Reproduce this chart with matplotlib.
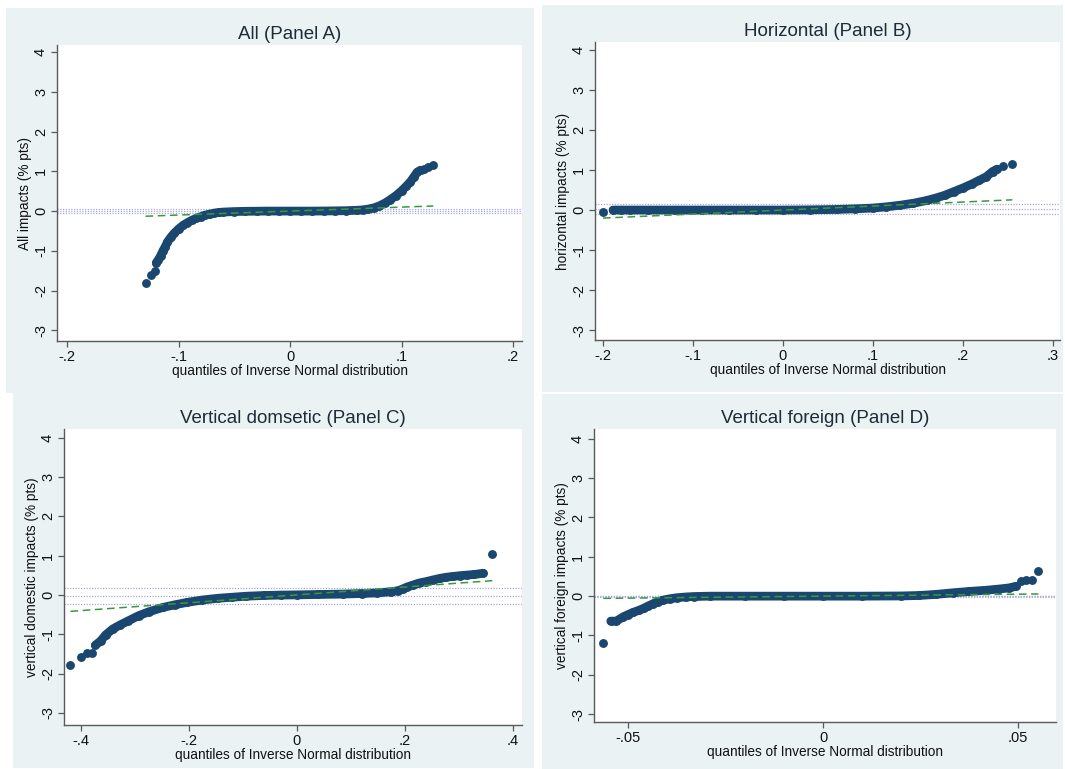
import matplotlib
matplotlib.use("Agg")
import matplotlib.pyplot as plt
from matplotlib.patches import Rectangle

plt.rcParams['font.family'] = ['Liberation Sans', 'DejaVu Sans']

W, H = 1065, 769

# ---- Panel A: all impacts -------------------------------------------------
qa_x = [-0.1296, -0.1250, -0.1215, -0.1200, -0.1180, -0.1160, -0.1140, -0.1120,
        -0.1100, -0.1070, -0.1040, -0.1000, -0.0960, -0.0920, -0.0880, -0.0840,
        -0.0800, -0.0760, -0.0720, -0.0680, -0.0640, -0.0600, -0.0500, -0.0400,
        -0.0300, -0.0200, -0.0100, 0.0000, 0.0100, 0.0200, 0.0300, 0.0400,
        0.0500, 0.0600, 0.0650, 0.0700, 0.0750, 0.0800, 0.0850, 0.0900,
        0.0950, 0.1000, 0.1040, 0.1080, 0.1110, 0.1140, 0.1170, 0.1200,
        0.1240, 0.1285]
qa_y = [-1.80, -1.60, -1.50, -1.30, -1.22, -1.12, -1.00, -0.90,
        -0.78, -0.66, -0.56, -0.45, -0.36, -0.29, -0.23, -0.18,
        -0.14, -0.10, -0.075, -0.05, -0.035, -0.025, -0.012, -0.006,
        -0.003, 0.0, 0.0, 0.0, 0.0, 0.0, 0.002, 0.005,
        0.01, 0.02, 0.03, 0.05, 0.08, 0.13, 0.20, 0.29,
        0.39, 0.51, 0.62, 0.74, 0.86, 0.98, 1.03, 1.06,
        1.11, 1.15]
ref_a = [-0.06, 0.0, 0.06]

# ---- Panel B: horizontal impacts ------------------------------------------
qb_x = [-0.200, -0.189, -0.180, -0.170, -0.150, -0.120, -0.090, -0.060,
        -0.030, 0.000, 0.030, 0.060, 0.080, 0.100, 0.115, 0.130,
        0.145, 0.160, 0.170, 0.180, 0.190, 0.200, 0.210, 0.218,
        0.226, 0.233, 0.238, 0.245, 0.255]
qb_y = [-0.04, 0.0, 0.0, 0.0, 0.0, 0.0, 0.0, 0.0,
        0.0, 0.0, 0.005, 0.015, 0.03, 0.05, 0.08, 0.12,
        0.17, 0.24, 0.30, 0.37, 0.46, 0.55, 0.65, 0.74,
        0.83, 0.96, 1.02, 1.10, 1.15]
ref_b = [-0.10, 0.02, 0.14]

# ---- Panel C: vertical domestic impacts -----------------------------------
qc_x = [-0.419, -0.400, -0.388, -0.379, -0.373, -0.363, -0.354, -0.341,
        -0.328, -0.312, -0.293, -0.274, -0.248, -0.225, -0.203, -0.175,
        -0.145, -0.120, -0.094, -0.060, -0.030, 0.000, 0.040, 0.085,
        0.120, 0.149, 0.175, 0.188, 0.196, 0.204, 0.215, 0.226,
        0.240, 0.252, 0.265, 0.277, 0.290, 0.303, 0.316, 0.329,
        0.345, 0.362]
qc_y = [-1.79, -1.58, -1.48, -1.48, -1.28, -1.17, -1.02, -0.87,
        -0.77, -0.66, -0.53, -0.43, -0.32, -0.25, -0.19, -0.13,
        -0.085, -0.06, -0.034, -0.015, -0.005, 0.0, 0.01, 0.02,
        0.035, 0.05, 0.08, 0.11, 0.15, 0.20, 0.25, 0.30,
        0.34, 0.38, 0.42, 0.45, 0.47, 0.49, 0.505, 0.52,
        0.55, 1.03]
ref_c = [-0.24, -0.025, 0.18]

# ---- Panel D: vertical foreign impacts ------------------------------------
qd_x = [-0.0563, -0.0544, -0.0530, -0.0512, -0.0500, -0.0486, -0.0472, -0.0460,
        -0.0448, -0.0435, -0.0422, -0.0410, -0.0392, -0.0375, -0.0350, -0.0332,
        -0.0290, -0.0200, -0.0100, 0.0000, 0.0100, 0.0200, 0.0247, 0.0290,
        0.0332, 0.0375, 0.0418, 0.0450, 0.0477, 0.0494, 0.0507, 0.0520,
        0.0535, 0.0552]
qd_y = [-1.20, -0.635, -0.635, -0.525, -0.47, -0.41, -0.36, -0.31,
        -0.25, -0.19, -0.14, -0.10, -0.065, -0.04, -0.02, -0.01,
        0.0, 0.0, 0.0, 0.0, 0.0, 0.005, 0.017, 0.045,
        0.085, 0.12, 0.15, 0.18, 0.21, 0.25, 0.38, 0.41,
        0.42, 0.635]
ref_d = [-0.01, 0.0, 0.01]

y_ticks = [-3, -2, -1, 0, 1, 2, 3, 4]
y_ticklabels = ['-3', '-2', '-1', '0', '1', '2', '3', '4']

NAVY = '#1A476F'
GREEN = '#3A9A3A'
LAVENDER = '#A9A9E2'
PANEL_BG = '#EAF2F3'
AXIS_GRAY = '#5A5A5A'

fig = plt.figure(figsize=(W / 100, H / 100), dpi=100)
fig.patch.set_facecolor('white')


def fig_rect(x0, y0, x1, y1):
    """Pixel box (top-left origin) -> figure-fraction [left, bottom, width, height]."""
    return [x0 / W, 1 - y1 / H, (x1 - x0) / W, (y1 - y0) / H]


def panel(bg_box, ax_box, xlim, ylim, xticks, xticklabels, qx, qy, band,
          refs, title, ylabel):
    l, b, w, h = fig_rect(*bg_box)
    fig.add_artist(Rectangle((l, b), w, h, transform=fig.transFigure,
                             facecolor=PANEL_BG, edgecolor='none', zorder=0))
    ax = fig.add_axes(fig_rect(*ax_box))
    ax.set_facecolor('white')
    for r in refs:
        ax.axhline(r, color=LAVENDER, lw=0.9, ls=(0, (1, 1.2)), zorder=1)
    # dense run of overlapping points drawn as a thick stroke
    i0, i1 = band
    ax.plot(qx[i0:i1], qy[i0:i1], color=NAVY, lw=6.3, solid_capstyle='round',
            solid_joinstyle='round', zorder=2)
    ax.plot(qx, qy, ls='none', marker='o', ms=6.4, color=NAVY,
            mec=NAVY, mew=0, zorder=3)
    # reference line y = x over the range of the quantiles
    ax.plot([qx[0], qx[-1]], [qx[0], qx[-1]], color=GREEN, lw=1.1,
            ls=(0, (5, 3)), zorder=4)
    ax.set_xlim(*xlim)
    ax.set_ylim(*ylim)
    ax.set_xticks(xticks)
    ax.set_xticklabels(xticklabels)
    ax.set_yticks(y_ticks)
    ax.set_yticklabels(y_ticklabels, rotation=90, va='center')
    for side in ('top', 'right'):
        ax.spines[side].set_visible(False)
    for side in ('left', 'bottom'):
        ax.spines[side].set_color(AXIS_GRAY)
        ax.spines[side].set_linewidth(1.0)
    ax.tick_params(axis='both', direction='out', length=4, width=0.9,
                   color=AXIS_GRAY, labelsize=10.5, labelcolor='#111111', pad=2.5)
    ax.set_title(title, fontsize=13.5, color='#1E2B38', pad=4)
    ax.set_xlabel('quantiles of Inverse Normal distribution', fontsize=9.8,
                  color='#111111', labelpad=0)
    ax.set_ylabel(ylabel, fontsize=9.8, color='#111111', labelpad=1.5)
    return ax


panel((6, 8, 534, 393), (57, 45, 522, 341), (-0.209, 0.208), (-3.27, 4.18),
      [-0.2, -0.1, 0, 0.1, 0.2], ['-.2', '-.1', '0', '.1', '.2'],
      qa_x, qa_y, (3, -3), ref_a, 'All (Panel A)', 'All impacts (% pts)')

panel((542, 5, 1063, 392), (595, 42, 1060, 340), (-0.209, 0.308), (-3.24, 4.19),
      [-0.2, -0.1, 0, 0.1, 0.2, 0.3], ['-.2', '-.1', '0', '.1', '.2', '.3'],
      qb_x, qb_y, (1, -2), ref_b, 'Horizontal (Panel B)',
      'horizontal impacts (% pts)')

panel((13, 393, 534, 768), (64, 429, 522, 725), (-0.431, 0.417), (-3.31, 4.22),
      [-0.4, -0.2, 0, 0.2, 0.4], ['-.4', '-.2', '0', '.2', '.4'],
      qc_x, qc_y, (4, -1), ref_c, 'Vertical domsetic (Panel C)',
      'vertical domestic impacts (% pts)')

panel((542, 394, 1063, 769), (594, 429, 1056, 722), (-0.0587, 0.0597), (-3.2, 4.25),
      [-0.05, 0, 0.05], ['-.05', '0', '.05'],
      qd_x, qd_y, (1, -4), ref_d, 'Vertical foreign (Panel D)',
      'vertical foreign impacts (% pts)')

fig.savefig('out.png', dpi=100, facecolor='white')
